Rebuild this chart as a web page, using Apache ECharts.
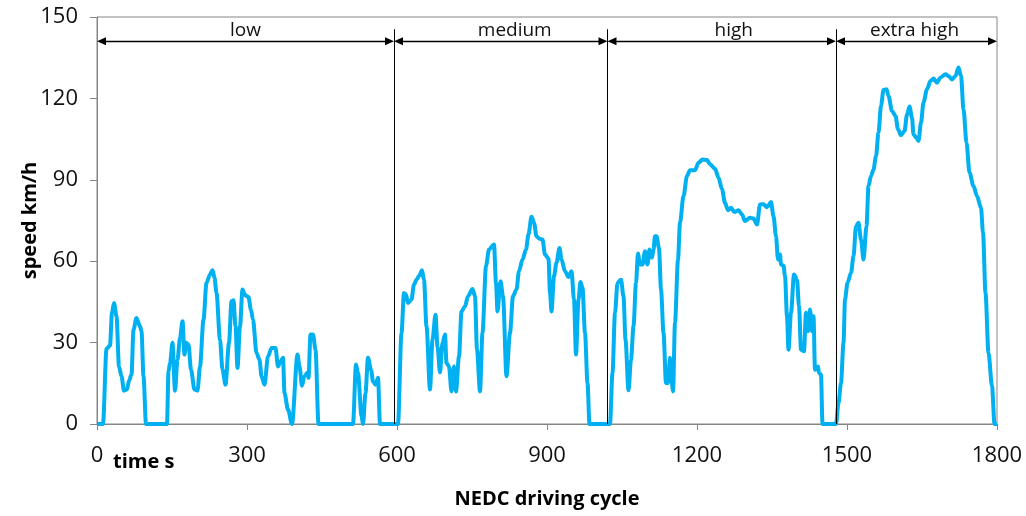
<!DOCTYPE html>
<html>
<head>
<meta charset="utf-8">
<script src="https://cdn.jsdelivr.net/npm/echarts@6/dist/echarts.min.js"></script>
<style>
  html, body { margin: 0; padding: 0; background: #ffffff; }
  #chart { width: 1026px; height: 516px; }
</style>
</head>
<body>
<div id="chart"></div>
<script>
// Driving cycle speed trace: time in seconds, speed in km/h
const timeS = [
  0, 12, 19, 26, 30, 34, 39, 44, 49, 54, 60, 64, 69, 73, 79, 86, 89, 93, 98, 140,
  143, 146, 151, 156, 161, 166, 171, 175, 178, 183, 188, 195, 201, 206, 213, 219, 226, 231, 235, 239,
  246, 251, 257, 264, 269, 273, 277, 281, 286, 291, 296, 303, 308, 312, 319, 325, 329, 335, 342, 349,
  357, 362, 367, 372, 375, 382, 390, 401, 405, 410, 415, 421, 423, 427, 432, 437, 443, 512, 518, 522,
  529, 532, 537, 542, 548, 552, 557, 562, 566, 602,
  609, 614, 618, 622, 629, 634, 639, 644, 650, 654, 659, 666, 671, 677, 681, 686, 691, 696, 699, 704,
  709, 714, 718, 724, 729, 736, 742, 751, 756, 760, 766, 771, 778, 784, 794, 798, 801, 807, 812, 819,
  826, 832, 839, 844, 851, 858, 863, 869, 874, 879, 885, 891, 896, 903, 906, 909, 914, 919, 925, 929,
  936, 943, 949, 954, 958, 963, 967, 971, 976, 981, 985, 1026,
  1031, 1036, 1041, 1048, 1053, 1057, 1063, 1068, 1073, 1078, 1082, 1086, 1091, 1096, 1101, 1105, 1110, 1113, 1116, 1119,
  1124, 1128, 1133, 1138, 1142, 1146, 1152, 1156, 1162, 1166, 1173, 1180, 1186, 1196, 1203, 1211, 1220, 1226, 1236, 1243,
  1250, 1256, 1262, 1268, 1275, 1283, 1290, 1296, 1306, 1313, 1320, 1326, 1333, 1340, 1348, 1353, 1358, 1362, 1366, 1368,
  1373, 1376, 1380, 1383, 1388, 1394, 1400, 1404, 1408, 1414, 1418, 1422, 1426, 1430, 1433, 1436, 1442, 1444, 1448, 1451,
  1478,
  1483, 1488, 1493, 1496, 1501, 1508, 1513, 1518, 1523, 1528, 1533, 1539, 1543, 1548, 1553, 1558, 1563, 1568, 1573, 1579,
  1583, 1590, 1597, 1602, 1608, 1615, 1620, 1625, 1630, 1633, 1639, 1643, 1648, 1653, 1660, 1667, 1673, 1680, 1687, 1697,
  1703, 1710, 1717, 1723, 1728, 1733, 1739, 1745, 1753, 1760, 1768, 1772, 1777, 1783, 1790, 1795, 1800
];
const speedKmh = [
  0, 0, 27.7, 28.9, 41, 44.6, 39.7, 21.2, 17.6, 12.3, 12.7, 16, 18.2, 34.8, 39.1, 36, 34.2, 17.6, 0, 0,
  19.4, 22.5, 29.9, 12.3, 23.7, 31.7, 37.9, 25.6, 29.9, 29.3, 20, 12.7, 12.3, 21.2, 38.5, 52, 55.1, 56.7, 53.9, 48.3,
  31.1, 20, 14.5, 29.9, 45.2, 45.6, 36, 20.7, 36, 49.6, 47.5, 46.8, 42, 38.5, 26.2, 23.7, 17.6, 14.5, 24.9, 28,
  28, 21.2, 23.1, 24.4, 11.4, 5.3, 0, 25.6, 21.2, 14.1, 17.6, 19, 17, 33, 33, 27.4, 0, 0, 21.9, 18.8,
  3, 0, 11.4, 24.4, 20, 15.7, 14.5, 17, 0, 0,
  33.6, 48.3, 47.7, 44.6, 45.9, 51.4, 53.2, 54.5, 56.7, 53.2, 36, 12.7, 31.1, 40.3, 28.6, 19, 29.9, 33, 22.5, 21.2,
  12, 21.2, 12, 24.9, 41.5, 43.4, 47.1, 49.8, 47.1, 27.4, 12, 33.6, 58.2, 64.3, 66.2, 52, 41.5, 52.6, 47.1, 17.6,
  33.6, 47.1, 49.6, 56.3, 60.6, 64.3, 69.9, 76.4, 74.2, 69.2, 68.3, 68, 62.5, 60.9, 48.3, 41.5, 54.5, 59.4, 64.9, 60.6,
  56.3, 54.2, 56.3, 45.9, 25.6, 45.9, 52.3, 50.2, 33.6, 15.1, 0, 0,
  18.8, 41, 52, 53.2, 47.1, 31.1, 12.4, 23.7, 36, 52, 62.8, 58.8, 58.8, 63.7, 58.8, 64.3, 61.3, 64.3, 69.2, 69.2,
  64.9, 49.6, 33.6, 15.1, 15.1, 24.4, 12, 37.3, 60.6, 74.2, 84, 91.4, 93.5, 93.5, 96.3, 97.5, 97.3, 95.7, 94.1, 90.8,
  86.5, 81.5, 78.8, 79.7, 78.1, 78.8, 77.2, 74.8, 76, 75.7, 73.5, 80.9, 81, 79.9, 81.8, 76.6, 69.2, 60.6, 62.5, 58.8,
  58.3, 54.5, 39.7, 27.4, 41, 55.1, 53.2, 43.4, 27.4, 26.8, 41, 34.2, 42.2, 34.2, 39.7, 20, 21.2, 18.8, 18.2, 0,
  0,
  7.7, 15.1, 29.9, 45.9, 52, 55.7, 61.8, 72.9, 74.2, 68, 60.6, 72.9, 87.7, 91.4, 93.8, 98.7, 107.4, 117.2, 123.1, 123.4,
  120.9, 115.4, 113.5, 108.6, 106.4, 108, 114.1, 117, 112.9, 106.7, 105.5, 104.3, 111.1, 118.5, 123.4, 126.4, 127.3, 125.8, 127.7, 128.9,
  128.3, 127, 128.3, 131.4, 128.3, 116, 103.7, 92.6, 87.7, 84, 79.7, 70.5, 48.3, 26.2, 13.9, 0, 0
];

// Cycle phases and their boundaries (s)
const phaseNames = ['low', 'medium', 'high', 'extra high'];
const phaseBounds = [0, 594, 1021, 1478, 1800];

// Speed axis ticks (km/h) and time axis ticks (s)
const speedMax = 150, speedStep = 30;
const timeMax = 1800, timeStep = 300;

// Annotation styling (in axis units)
const guideTop = 145.5;      // top end of the phase separators
const arrowLevel = 141.1;    // height of the dimension arrows
const labelLevel = 145.0;    // height of the phase names
const arrowHalf = 9;         // half an arrow head, in seconds
const labelShift = [0, 14, 12, -2];

const trace = timeS.map((t, i) => [t, speedKmh[i]]);

const separators = phaseBounds.slice(1, -1).map(t => [
  { coord: [t, 0], symbol: 'none', lineStyle: { color: '#000', width: 1, type: 'solid' } },
  { coord: [t, guideTop], symbol: 'none' }
]);
const arrows = phaseNames.map((n, i) => [
  { coord: [phaseBounds[i] + arrowHalf, arrowLevel], lineStyle: { color: '#000', width: 1.3, type: 'solid' } },
  { coord: [phaseBounds[i + 1] - arrowHalf, arrowLevel] }
]);
const phaseLabels = phaseNames.map((n, i) => ({
  name: n,
  coord: [(phaseBounds[i] + phaseBounds[i + 1]) / 2, labelLevel],
  label: { offset: [labelShift[i], 0] }
}));

const axisGray = '#868686';
const fontFamily = '"Open Sans", "Noto Sans", sans-serif';

const chart = echarts.init(document.getElementById('chart'), null, { renderer: 'canvas' });
chart.setOption({
  animation: false,
  backgroundColor: '#ffffff',
  grid: {
    left: 97, right: 29, top: 17, bottom: 92,
    show: true, borderColor: axisGray, borderWidth: 1, backgroundColor: 'transparent'
  },
  xAxis: {
    type: 'value', min: 0, max: timeMax, interval: timeStep,
    name: 'NEDC driving cycle', nameLocation: 'middle', nameGap: 65,
    nameMoveOverlap: false,
    nameTextStyle: { fontFamily, fontSize: 20, fontWeight: 'bold', color: '#000' },
    axisLine: { show: true, lineStyle: { color: axisGray, width: 1 } },
    axisTick: { show: true, inside: false, length: 6, lineStyle: { color: axisGray } },
    axisLabel: { fontFamily, fontSize: 22, color: '#111', margin: 21, formatter: v => String(v) },
    splitLine: { show: false }
  },
  yAxis: {
    type: 'value', min: 0, max: speedMax, interval: speedStep,
    name: 'speed km/h', nameLocation: 'middle', nameGap: 57,
    nameMoveOverlap: false,
    nameTextStyle: { fontFamily, fontSize: 20, fontWeight: 'bold', color: '#000' },
    axisLine: { show: true, lineStyle: { color: axisGray, width: 1 } },
    axisTick: { show: true, inside: false, length: 7, lineStyle: { color: axisGray } },
    axisLabel: { fontFamily, fontSize: 22, color: '#111', margin: 19, formatter: v => String(v) },
    splitLine: { show: false }
  },
  graphic: [{
    type: 'text', left: 113, top: 452,
    style: { text: 'time s', font: 'bold 20px ' + fontFamily, fill: '#000' }
  }],
  series: [{
    type: 'line',
    data: trace,
    showSymbol: false,
    smooth: 0.3,
    smoothMonotone: 'x',
    clip: false,
    lineStyle: { color: '#00B0F0', width: 4 },
    itemStyle: { color: '#00B0F0' },
    silent: true,
    markLine: {
      silent: true,
      animation: false,
      symbol: ['triangle', 'triangle'],
      symbolSize: [8, 9],
      label: { show: false },
      emphasis: { disabled: true },
      lineStyle: { color: '#000', width: 1.3, type: 'solid' },
      data: separators.concat(arrows)
    },
    markPoint: {
      silent: true,
      animation: false,
      symbol: 'circle',
      symbolSize: 0,
      itemStyle: { color: 'transparent' },
      label: {
        show: true, position: 'inside', formatter: '{b}',
        fontFamily, fontSize: 19, color: '#111'
      },
      data: phaseLabels
    }
  }]
});
</script>
</body>
</html>
